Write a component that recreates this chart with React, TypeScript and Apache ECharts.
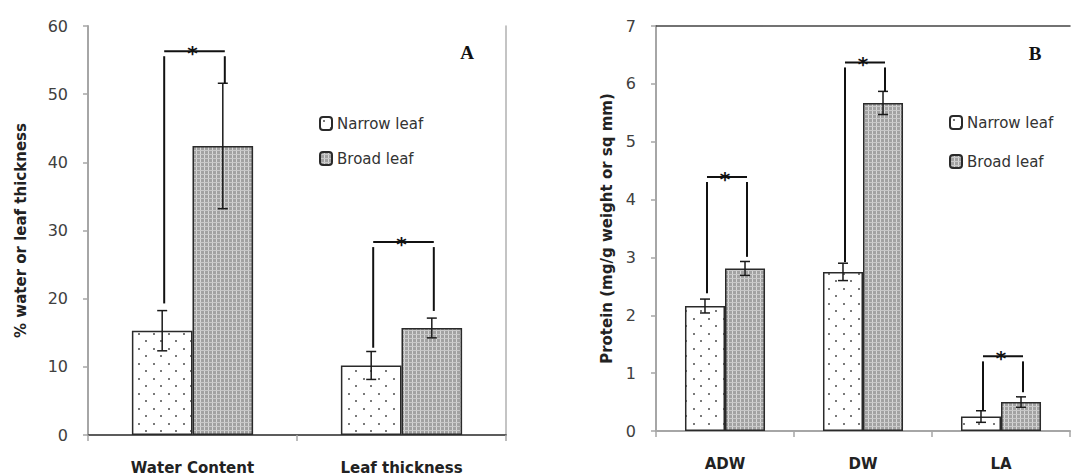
import React, { useEffect, useRef } from "react";
import * as echarts from "echarts";

// ---- Data ----
const catsA = ["Water Content", "Leaf thickness"];
const narrowA = [15.3, 10.2];
const narrowAErr = [2.95, 2.05];
const broadA = [42.4, 15.7];
const broadAErr = [9.2, 1.45];
// bracket: [horizontal line y, left end, right end]
const bracketA = [
  [56.3, 19.3, 51.6],
  [28.3, 12.8, 18.2],
];

const catsB = ["ADW", "DW", "LA"];
const narrowB = [2.16, 2.75, 0.25];
const narrowBErr = [0.12, 0.15, 0.1];
const broadB = [2.81, 5.67, 0.5];
const broadBErr = [0.12, 0.2, 0.09];
const bracketB = [
  [4.39, 2.38, 3.01],
  [6.37, 2.92, 5.87],
  [1.29, 0.36, 0.67],
];

const yTicksA = { min: 0, max: 60, interval: 10 };
const yTicksB = { min: 0, max: 7, interval: 1 };
const seriesNames = ["Narrow leaf", "Broad leaf"];

const GAP = 0.42;

function makeDots(): HTMLCanvasElement {
  const c = document.createElement("canvas");
  c.width = 15;
  c.height = 15;
  const g = c.getContext("2d")!;
  g.fillStyle = "#ffffff";
  g.fillRect(0, 0, 15, 15);
  g.fillStyle = "#7a7a7a";
  g.fillRect(3, 3, 2, 2);
  g.fillRect(10, 10, 2, 2);
  return c;
}
function makeGrid(): HTMLCanvasElement {
  const c = document.createElement("canvas");
  c.width = 4;
  c.height = 4;
  const g = c.getContext("2d")!;
  g.fillStyle = "#a2a2a2";
  g.fillRect(0, 0, 4, 4);
  g.fillStyle = "#d8d8d8";
  g.fillRect(0, 0, 1, 4);
  g.fillStyle = "#c8c8c8";
  g.fillRect(0, 2, 4, 1);
  return c;
}

function errData(vals: number[], errs: number[], grp: number) {
  return vals.map((v, i) => [i, v, errs[i], grp]);
}

const errorRender = (params: any, api: any) => {
  const cat = api.value(0);
  const v = api.value(1);
  const e = api.value(2);
  const g = api.value(3);
  const band = api.size([1, 0])[0];
  const bw = (band * (1 - GAP)) / 2;
  const c = api.coord([cat, v]);
  const x = c[0] + (g === 0 ? -bw / 2 : bw / 2);
  const yt = api.coord([cat, v + e])[1];
  const yb = api.coord([cat, v - e])[1];
  const cap = 5;
  const st = { stroke: "#1a1a1a", lineWidth: 1.5 };
  return {
    type: "group",
    children: [
      { type: "line", shape: { x1: x, y1: yt, x2: x, y2: yb }, style: st },
      { type: "line", shape: { x1: x - cap, y1: yt, x2: x + cap, y2: yt }, style: st },
      { type: "line", shape: { x1: x - cap, y1: yb, x2: x + cap, y2: yb }, style: st },
    ],
  };
};

const bracketRender = (params: any, api: any) => {
  const cat = params.dataIndex;
  const yl = api.value(0);
  const lb = api.value(1);
  const rb = api.value(2);
  const band = api.size([1, 0])[0];
  const bw = (band * (1 - GAP)) / 2;
  const c = api.coord([cat, yl]);
  const xl = c[0] - bw / 2 + 2;
  const xr = c[0] + bw / 2 + 2;
  const y = c[1];
  const yL = api.coord([cat, lb])[1];
  const yR = api.coord([cat, rb])[1];
  const st = { stroke: "#111", lineWidth: 2 };
  return {
    type: "group",
    children: [
      { type: "line", shape: { x1: xl, y1: y, x2: xr, y2: y }, style: st },
      { type: "line", shape: { x1: xl, y1: y + 5, x2: xl, y2: yL }, style: st },
      { type: "line", shape: { x1: xr, y1: y + 5, x2: xr, y2: yR }, style: st },
      {
        type: "text",
        x: c[0],
        y: y + 2,
        style: {
          text: "*",
          fill: "#111",
          font: "bold 20px 'DejaVu Sans'",
          textAlign: "center",
          textVerticalAlign: "middle",
        },
      },
    ],
  };
};

export default function App() {
  const ref = useRef<HTMLDivElement>(null);
  useEffect(() => {
    if (!ref.current) return;
    const chart = echarts.init(ref.current, undefined, { renderer: "svg" });
    const dots = makeDots();
    const grid = makeGrid();
    const narrowStyle = {
      color: { image: dots, repeat: "repeat" },
      borderColor: "#2a2a2a",
      borderWidth: 1.5,
    };
    const broadStyle = {
      color: { image: grid, repeat: "repeat" },
      borderColor: "#2a2a2a",
      borderWidth: 1.5,
    };
    const axisGrey = "#a6a6a6";
    const font = "'DejaVu Sans', Verdana, sans-serif";
    const mkX = (gi: number, data: string[]) => ({
      type: "category",
      gridIndex: gi,
      data,
      axisLine: { lineStyle: { color: axisGrey, width: 2 } },
      axisTick: { show: true, length: 6, lineStyle: { color: axisGrey, width: 1.5 } },
      axisLabel: { color: "#222", fontSize: 15, fontWeight: "bold", fontFamily: font, margin: 25 },
    });
    const mkTop = (gi: number, data: string[]) => ({
      type: "category",
      gridIndex: gi,
      data,
      position: "top",
      axisLine: { lineStyle: { color: "#444", width: 1.5 } },
      axisTick: { show: false },
      axisLabel: { show: false },
    });
    const mkY = (gi: number, t: any, name: string, gap: number) => ({
      type: "value",
      gridIndex: gi,
      min: t.min,
      max: t.max,
      interval: t.interval,
      name,
      nameLocation: "middle",
      nameRotate: 90,
      nameGap: gap,
      nameTextStyle: { fontSize: 15, fontWeight: "bold", color: "#222", fontFamily: font },
      axisLine: { show: true, lineStyle: { color: axisGrey, width: 2 } },
      axisTick: { show: true, length: 5, lineStyle: { color: axisGrey, width: 1.5 } },
      axisLabel: { fontSize: 16, color: "#404040", fontFamily: font, margin: 20 },
      splitLine: { show: false },
    });
    chart.setOption({
      animation: false,
      backgroundColor: "#ffffff",
      grid: [
        { left: 88, top: 26, width: 418, height: 409 },
        { left: 656, top: 26, width: 414, height: 405 },
      ],
      xAxis: [mkX(0, catsA), mkX(1, catsB), mkTop(0, catsA), mkTop(1, catsB)],
      yAxis: [
        mkY(0, yTicksA, "% water or leaf thickness", 60),
        mkY(1, yTicksB, "Protein (mg/g weight or sq mm)", 42),
        {
          type: "value",
          gridIndex: 0,
          position: "right",
          min: yTicksA.min,
          max: yTicksA.max,
          axisLine: { show: true, lineStyle: { color: "#b0b0b0", width: 1.5 } },
          axisTick: { show: false },
          axisLabel: { show: false },
          splitLine: { show: false },
        },
      ],
      legend: [
        {
          left: 314,
          top: 111,
          orient: "vertical",
          itemWidth: 12,
          itemHeight: 13,
          itemGap: 20,
          data: seriesNames,
          textStyle: { fontSize: 15, color: "#333", fontFamily: font },
        },
        {
          left: 944,
          top: 110,
          orient: "vertical",
          itemWidth: 12,
          itemHeight: 13,
          itemGap: 24,
          data: seriesNames,
          textStyle: { fontSize: 15, color: "#333", fontFamily: font },
        },
      ],
      graphic: [
        { type: "text", x: 467, y: 52, style: { text: "A", font: "bold 19px 'Liberation Serif', serif", fill: "#111", textAlign: "center", textVerticalAlign: "middle" } },
        { type: "text", x: 1035, y: 53, style: { text: "B", font: "bold 19px 'Liberation Serif', serif", fill: "#111", textAlign: "center", textVerticalAlign: "middle" } },
      ],
      series: [
        { name: seriesNames[0], type: "bar", xAxisIndex: 0, yAxisIndex: 0, data: narrowA, barGap: "0%", barCategoryGap: "42%", itemStyle: narrowStyle },
        { name: seriesNames[1], type: "bar", xAxisIndex: 0, yAxisIndex: 0, data: broadA, barGap: "0%", barCategoryGap: "42%", itemStyle: broadStyle },
        { name: seriesNames[0], type: "bar", xAxisIndex: 1, yAxisIndex: 1, data: narrowB, barGap: "0%", barCategoryGap: "42%", itemStyle: narrowStyle },
        { name: seriesNames[1], type: "bar", xAxisIndex: 1, yAxisIndex: 1, data: broadB, barGap: "0%", barCategoryGap: "42%", itemStyle: broadStyle },
        { type: "custom", xAxisIndex: 0, yAxisIndex: 0, renderItem: errorRender, data: [...errData(narrowA, narrowAErr, 0), ...errData(broadA, broadAErr, 1)], clip: false, z: 5 },
        { type: "custom", xAxisIndex: 1, yAxisIndex: 1, renderItem: errorRender, data: [...errData(narrowB, narrowBErr, 0), ...errData(broadB, broadBErr, 1)], clip: false, z: 5 },
        { type: "custom", xAxisIndex: 0, yAxisIndex: 0, renderItem: bracketRender, data: bracketA, clip: false, z: 5 },
        { type: "custom", xAxisIndex: 1, yAxisIndex: 1, renderItem: bracketRender, data: bracketB, clip: false, z: 5 },
      ],
    });
    return () => chart.dispose();
  }, []);
  return <div ref={ref} style={{ width: 1076, height: 475, position: "absolute", left: 0, top: 0 }} />;
}
